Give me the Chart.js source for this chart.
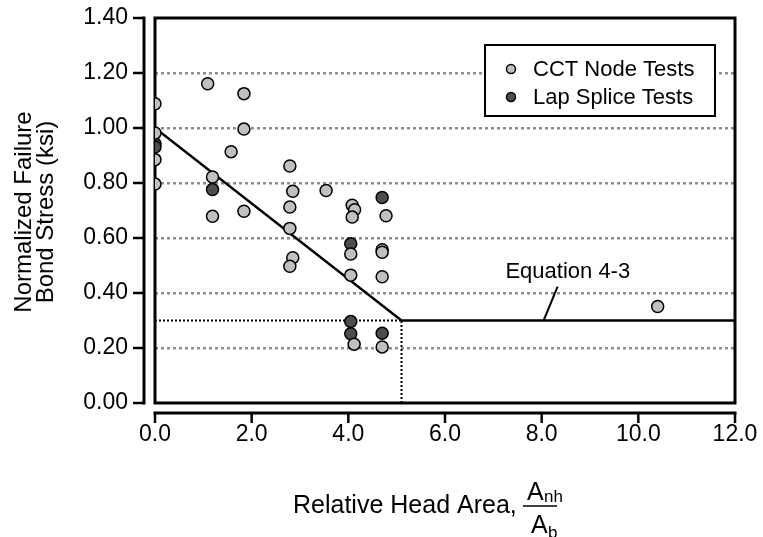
<!DOCTYPE html>
<html><head><meta charset="utf-8">
<script src="https://cdn.jsdelivr.net/npm/chart.js@4.4.1/dist/chart.umd.min.js"></script>
<style>html,body{margin:0;padding:0;background:#fff;}#wrap{width:763px;height:537px;position:relative;}</style>
</head><body><div id="wrap"><canvas id="c" width="763" height="537"></canvas></div>
<script>
// ---- data ----
const cctX = [0, 0, 0, 0, 1.09, 1.84, 1.84, 1.575, 1.19, 1.19, 1.84, 2.79, 2.85, 3.54, 2.79, 4.08, 4.13, 4.08, 4.78, 2.79, 4.05, 4.70, 4.70, 2.85, 2.79, 4.05, 4.70, 4.12, 4.70, 10.40];
const cctY = [1.088, 0.982, 0.885, 0.796, 1.161, 1.125, 0.996, 0.914, 0.822, 0.679, 0.697, 0.862, 0.770, 0.773, 0.713, 0.719, 0.703, 0.676, 0.681, 0.635, 0.542, 0.557, 0.548, 0.528, 0.497, 0.465, 0.459, 0.214, 0.204, 0.351];
const lapX = [0, 0, 1.19, 4.70, 4.05, 4.05, 4.05, 4.70];
const lapY = [0.943, 0.931, 0.776, 0.747, 0.579, 0.296, 0.252, 0.254];
const eqX = [0, 5.1, 12];
const eqY = [1.0, 0.3, 0.3];
const refHX = [0, 5.1], refHY = [0.3, 0.3];
const refVX = [5.1, 5.1], refVY = [0, 0.3];
const seriesNames = ['CCT Node Tests', 'Lap Splice Tests'];
const xTickLabels = ['0.0', '2.0', '4.0', '6.0', '8.0', '10.0', '12.0'];
const yTickLabels = ['0.00', '0.20', '0.40', '0.60', '0.80', '1.00', '1.20', '1.40'];
const eqLabel = 'Equation 4-3';
const eqLabelAt = [7.25, 0.477];
const eqLeader = [[8.33, 0.423], [8.04, 0.30]];

const zip = (xs, ys) => xs.map((x, i) => ({x, y: ys[i]}));
const FONT = "'Liberation Sans', Arial, sans-serif";
Chart.defaults.font.family = FONT;
Chart.defaults.color = '#000';
const CCT_FILL = '#c0c0c0', LAP_FILL = '#4d4d4d';

const decor = {
  id: 'decor',
  beforeDatasetsDraw(chart) {
    const {ctx, chartArea: a} = chart;
    ctx.save();
    ctx.strokeStyle = '#000'; ctx.lineWidth = 3;
    ctx.strokeRect(a.left, a.top, a.right - a.left, a.bottom - a.top);
    ctx.restore();
  },
  afterDraw(chart) {
    const {ctx, chartArea: a, scales: {x, y}} = chart;
    ctx.save();
    ctx.strokeStyle = '#000'; ctx.fillStyle = '#000';
    // y spine with outward ticks
    const sx = a.left - 11;
    ctx.lineWidth = 3;
    ctx.beginPath();
    ctx.moveTo(sx, y.getPixelForValue(1.4) - 1.5);
    ctx.lineTo(sx, y.getPixelForValue(0) + 1.5);
    ctx.stroke();
    ctx.lineWidth = 2.5;
    y.ticks.forEach(t => {
      const py = y.getPixelForValue(t.value);
      ctx.beginPath(); ctx.moveTo(sx, py); ctx.lineTo(sx - 11, py); ctx.stroke();
    });
    // x spine with downward ticks
    const sy = a.bottom + 10;
    ctx.lineWidth = 3;
    ctx.beginPath();
    ctx.moveTo(x.getPixelForValue(0) - 1.5, sy);
    ctx.lineTo(x.getPixelForValue(12) + 1.5, sy);
    ctx.stroke();
    ctx.lineWidth = 2.5;
    x.ticks.forEach(t => {
      const px = x.getPixelForValue(t.value);
      ctx.beginPath(); ctx.moveTo(px, sy); ctx.lineTo(px, sy + 10); ctx.stroke();
    });
    // legend
    ctx.lineWidth = 2;
    ctx.fillStyle = '#fff';
    ctx.fillRect(485, 45, 230, 71);
    ctx.strokeRect(485, 45, 230, 71);
    const items = [[seriesNames[0], CCT_FILL, 69], [seriesNames[1], LAP_FILL, 97]];
    ctx.font = '22px ' + FONT; ctx.textBaseline = 'middle'; ctx.textAlign = 'left';
    items.forEach(([txt, col, yy]) => {
      ctx.beginPath(); ctx.arc(511, yy, 4.5, 0, Math.PI * 2);
      ctx.fillStyle = col; ctx.fill(); ctx.lineWidth = 1.5; ctx.strokeStyle = '#000'; ctx.stroke();
      ctx.fillStyle = '#000'; ctx.fillText(txt, 533, yy + 1);
    });
    // equation label + leader
    ctx.fillText(eqLabel, x.getPixelForValue(eqLabelAt[0]), y.getPixelForValue(eqLabelAt[1]));
    ctx.lineWidth = 2;
    ctx.beginPath();
    ctx.moveTo(x.getPixelForValue(eqLeader[0][0]), y.getPixelForValue(eqLeader[0][1]));
    ctx.lineTo(x.getPixelForValue(eqLeader[1][0]), y.getPixelForValue(eqLeader[1][1]));
    ctx.stroke();
    // y title
    ctx.save();
    ctx.translate(35, 212); ctx.rotate(-Math.PI / 2);
    ctx.font = '24px ' + FONT; ctx.textAlign = 'center'; ctx.textBaseline = 'middle';
    ctx.fillText('Normalized Failure', 0, -11);
    ctx.fillText('Bond Stress (ksi)', 0, 11);
    ctx.restore();
    // x title
    ctx.font = '25px ' + FONT; ctx.textAlign = 'left'; ctx.textBaseline = 'alphabetic';
    ctx.fillText('Relative Head Area,', 293, 513);
    ctx.lineWidth = 1.5;
    ctx.beginPath(); ctx.moveTo(523, 506); ctx.lineTo(557, 506); ctx.stroke();
    ctx.fillText('A', 527, 500);
    ctx.fillText('A', 531, 533);
    ctx.font = '17px ' + FONT;
    ctx.fillText('nh', 544, 502);
    ctx.fillText('b', 548, 538);
    ctx.restore();
  }
};

new Chart(document.getElementById('c'), {
  type: 'scatter',
  data: {
    datasets: [
      {label: seriesNames[0], data: zip(cctX, cctY), backgroundColor: CCT_FILL, borderColor: '#000', borderWidth: 1.5, pointRadius: 6, order: 1},
      {label: seriesNames[1], data: zip(lapX, lapY), backgroundColor: LAP_FILL, borderColor: '#000', borderWidth: 1.5, pointRadius: 6, order: 2},
      {label: 'Equation 4-3', type: 'line', data: zip(eqX, eqY), borderColor: '#000', borderWidth: 2.5, pointRadius: 0, fill: false, order: 3},
      {label: 'ref-h', type: 'line', data: zip(refHX, refHY), borderColor: '#000', borderWidth: 2, borderDash: [2, 2], pointRadius: 0, fill: false, order: 4},
      {label: 'ref-v', type: 'line', data: zip(refVX, refVY), borderColor: '#000', borderWidth: 2, borderDash: [2, 2], pointRadius: 0, fill: false, order: 4}
    ]
  },
  options: {
    responsive: false, animation: false,
    layout: {padding: {top: 18, right: 28, left: 0, bottom: 0}},
    plugins: {legend: {display: false}, tooltip: {enabled: false}},
    scales: {
      x: {
        type: 'linear', min: 0, max: 12,
        afterFit: s => { s.height = 134; s.paddingLeft = 0; s.paddingRight = 0; },
        afterBuildTicks: s => { s.ticks = xTickLabels.map(v => ({value: parseFloat(v)})); },
        ticks: {padding: 18, font: {size: 23}, color: '#000', callback: (v, i) => xTickLabels[i]},
        grid: {display: false, drawTicks: false},
        border: {display: false}
      },
      y: {
        type: 'linear', min: 0, max: 1.4,
        afterFit: s => { s.width = 155; s.paddingTop = 0; s.paddingBottom = 0; },
        afterBuildTicks: s => { s.ticks = yTickLabels.map(v => ({value: parseFloat(v)})); },
        ticks: {padding: 27, font: {size: 23}, color: '#000', callback: (v, i) => yTickLabels[i]},
        grid: {drawTicks: false, lineWidth: 2.5,
          color: c => (c.tick && c.tick.value > 0.05 && c.tick.value < 1.35) ? '#8c8c8c' : 'rgba(0,0,0,0)'},
        border: {display: false, dash: [3, 3]}
      }
    }
  },
  plugins: [decor]
});
</script></body></html>
